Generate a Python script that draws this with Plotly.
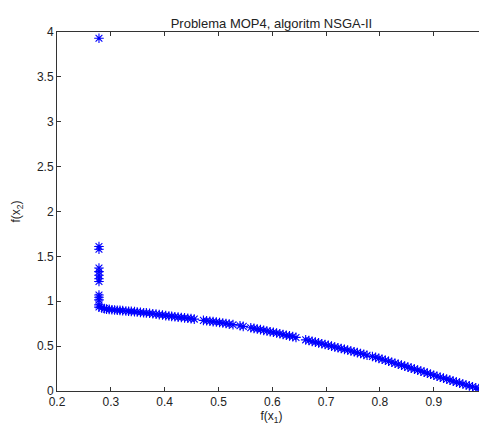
import plotly.graph_objects as go

# Vertical cluster of solutions near f(x1) ~ 0.278
cluster_x = [0.278] * 13
cluster_y = [3.93, 1.61, 1.58, 1.37, 1.33, 1.29, 1.25, 1.22, 1.07, 1.045, 1.015, 0.96, 0.935]

# Main Pareto front
front_x = [
    0.283, 0.288, 0.292, 0.297, 0.302, 0.307, 0.312, 0.317, 0.322, 0.328, 0.333,
    0.338, 0.344, 0.349, 0.355, 0.361, 0.366, 0.372, 0.378, 0.384, 0.390, 0.396,
    0.402, 0.408, 0.413, 0.419, 0.425, 0.431, 0.437, 0.443, 0.449, 0.455,
    0.472, 0.478, 0.484, 0.490, 0.496, 0.502, 0.508, 0.514, 0.520, 0.527,
    0.540, 0.546,
    0.560, 0.566, 0.572, 0.578, 0.584, 0.590, 0.596, 0.602, 0.608, 0.614, 0.620,
    0.626, 0.632, 0.638, 0.644,
    0.662, 0.668, 0.674, 0.680, 0.686, 0.692, 0.698, 0.704, 0.710, 0.716, 0.722,
    0.728, 0.734, 0.740, 0.746, 0.752, 0.758, 0.764, 0.770, 0.776,
    0.786, 0.792, 0.798, 0.804, 0.810, 0.816, 0.822, 0.828, 0.834, 0.840, 0.846,
    0.852, 0.858, 0.864, 0.870, 0.876, 0.882, 0.888, 0.894, 0.900, 0.906, 0.912,
    0.918, 0.924, 0.930, 0.936, 0.942, 0.948, 0.954, 0.960, 0.966, 0.972, 0.978,
    0.984, 0.990, 0.996,
]
front_y = [
    0.925, 0.918, 0.912, 0.910, 0.906, 0.903, 0.900, 0.898, 0.895, 0.892, 0.889,
    0.887, 0.884, 0.881, 0.876, 0.872, 0.870, 0.866, 0.860, 0.856, 0.851, 0.846,
    0.840, 0.836, 0.832, 0.828, 0.823, 0.819, 0.815, 0.810, 0.806, 0.801,
    0.787, 0.782, 0.777, 0.773, 0.768, 0.763, 0.757, 0.752, 0.745, 0.739,
    0.727, 0.720,
    0.705, 0.698, 0.691, 0.684, 0.676, 0.668, 0.661, 0.654, 0.646, 0.638, 0.630,
    0.622, 0.614, 0.606, 0.597,
    0.570, 0.562, 0.553, 0.545, 0.536, 0.527, 0.518, 0.510, 0.500, 0.491, 0.482,
    0.473, 0.464, 0.456, 0.446, 0.437, 0.428, 0.418, 0.408, 0.399,
    0.385, 0.375, 0.364, 0.353, 0.342, 0.331, 0.320, 0.309, 0.298, 0.288, 0.277,
    0.266, 0.255, 0.244, 0.233, 0.222, 0.210, 0.199, 0.187, 0.176, 0.165, 0.154,
    0.143, 0.132, 0.121, 0.110, 0.099, 0.088, 0.078, 0.067, 0.057, 0.047, 0.037,
    0.027, 0.018, 0.008,
]

x_all = cluster_x + front_x
y_all = cluster_y + front_y

x_ticks = [0.2, 0.3, 0.4, 0.5, 0.6, 0.7, 0.8, 0.9]
y_ticks = [0, 0.5, 1, 1.5, 2, 2.5, 3, 3.5, 4]

fig = go.Figure()
fig.add_trace(go.Scatter(
    x=x_all, y=y_all, mode="markers",
    marker=dict(symbol="asterisk-open", size=8, color="#0000ff",
                line=dict(color="#0000ff", width=1.1)),
    showlegend=False,
))

font = dict(family="Liberation Sans, Arial, sans-serif", size=12, color="#222")
title_font = dict(family="Liberation Sans, Arial, sans-serif", size=13, color="#222")
axis_common = dict(
    showgrid=False, zeroline=False, showline=True, linecolor="#333", linewidth=1,
    mirror="ticks", ticks="inside", ticklen=4, tickcolor="#333", tickfont=font,
)
fig.update_xaxes(range=[0.2, 0.997], tickvals=x_ticks,
                 ticktext=[f"{v:.1f}" for v in x_ticks],
                 title=dict(text="f(x<sub>1</sub>)", font=font, standoff=3),
                 **axis_common)
fig.update_yaxes(range=[0, 4], tickvals=y_ticks,
                 ticktext=[("%g" % v) for v in y_ticks],
                 title=dict(text="f(x<sub>2</sub>)", font=font, standoff=13),
                 **axis_common)
fig.update_layout(
    width=479, height=422,
    margin=dict(l=49, r=1, t=24, b=39, autoexpand=False),
    paper_bgcolor="white", plot_bgcolor="white",
    title=dict(text="Problema MOP4, algoritm NSGA-II", font=title_font,
               x=0.55, xanchor="center", y=0.964, yanchor="middle"),
    font=font,
)
fig.write_html("out.html")
